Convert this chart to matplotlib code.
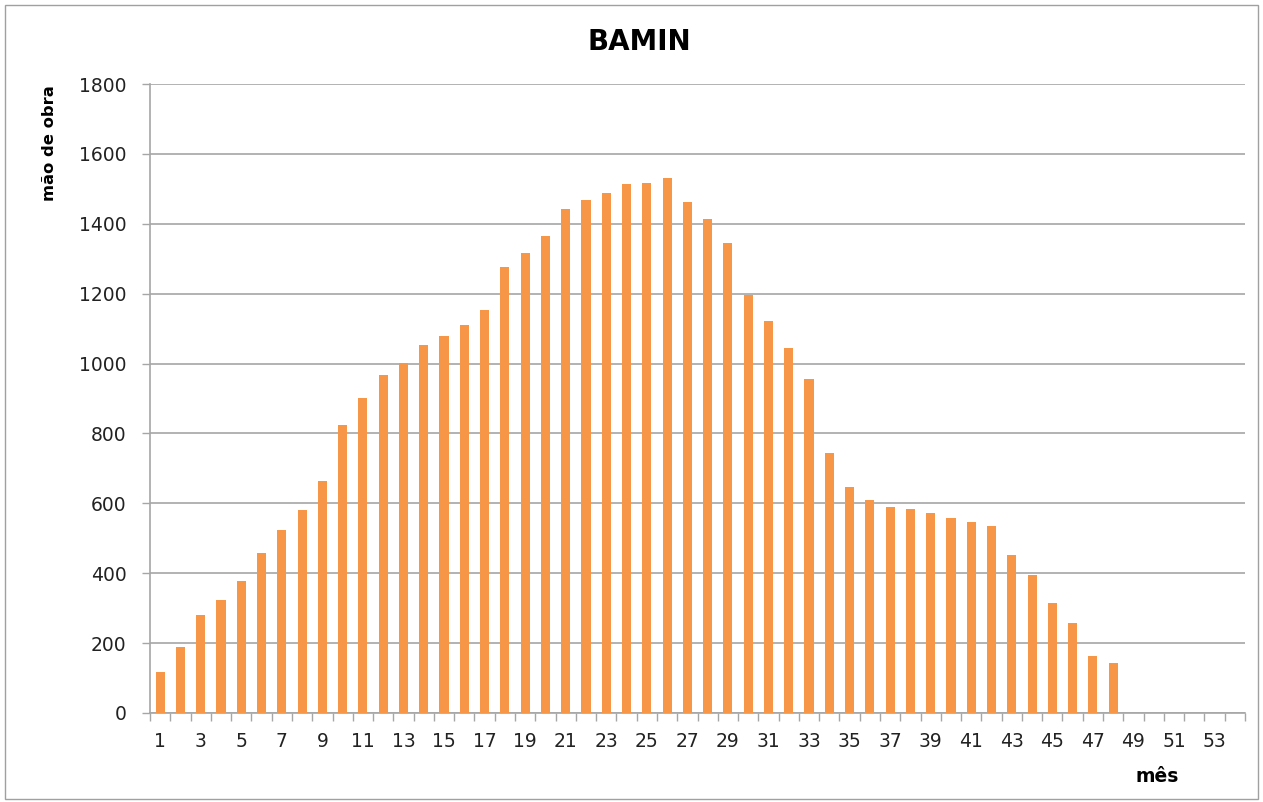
import matplotlib
matplotlib.use("Agg")
import matplotlib.pyplot as plt
import numpy as np
from matplotlib.patches import Rectangle

months = list(range(1, 55))
values = [117, 189, 280, 323, 378, 458, 524, 581, 664, 824,
          901, 967, 1002, 1053, 1079, 1110, 1153, 1276, 1316, 1365,
          1442, 1468, 1488, 1514, 1517, 1531, 1462, 1414, 1345, 1196,
          1122, 1045, 956, 744, 647, 610, 590, 584, 572, 558,
          547, 535, 452, 395, 315, 258, 163, 143, 0, 0,
          0, 0, 0, 0]
yticks = [0, 200, 400, 600, 800, 1000, 1200, 1400, 1600, 1800]

plt.rcParams['font.family'] = ['DejaVu Sans']

fig = plt.figure(figsize=(12.63, 8.02), dpi=100)
fig.patches.append(Rectangle((0.004, 0.004), 0.992, 0.99, transform=fig.transFigure,
                             fill=False, edgecolor='#a0a0a0', linewidth=1.0))
ax = fig.add_axes([150/1263, 1 - 713/802, (1245-150)/1263, (713-84)/802])

x = np.arange(len(months))
ax.bar(x, values, width=0.45, color='#F79646', zorder=3)

ax.set_xlim(-0.5, len(months) - 0.5)
ax.set_ylim(0, 1800)
ax.set_yticks(yticks)
ax.set_yticklabels([str(v) for v in yticks], fontsize=13.5, color='#222222')
ax.yaxis.grid(True, color='#a6a6a6', linewidth=1.2, zorder=0)

ax.set_xticks(x[::2])
ax.set_xticklabels([str(m) for m in months[::2]], fontsize=13.5, color='#222222')
ax.set_xticks(np.arange(-0.5, len(months)), minor=True)
ax.tick_params(axis='x', which='major', length=0, pad=14)
ax.tick_params(axis='x', which='minor', length=6, color='#a6a6a6', width=1)
ax.tick_params(axis='y', length=6, color='#a6a6a6', width=1, pad=11)

for s in ['top', 'right']:
    ax.spines[s].set_visible(False)
for s in ['left', 'bottom']:
    ax.spines[s].set_color('#a6a6a6')
    ax.spines[s].set_linewidth(1.2)

fig.text(639/1263, 1 - 42/802, 'BAMIN', ha='center', va='center', fontsize=20, fontweight='bold')
fig.text(50/1263, 1 - 143/802, 'mão de obra', ha='center', va='center', rotation=90,
         fontsize=11.8, fontweight='bold')
fig.text(1157/1263, 1 - 776/802, 'mês', ha='center', va='center', fontsize=13.5, fontweight='bold')

fig.savefig('out.png', dpi=100, facecolor='white')
